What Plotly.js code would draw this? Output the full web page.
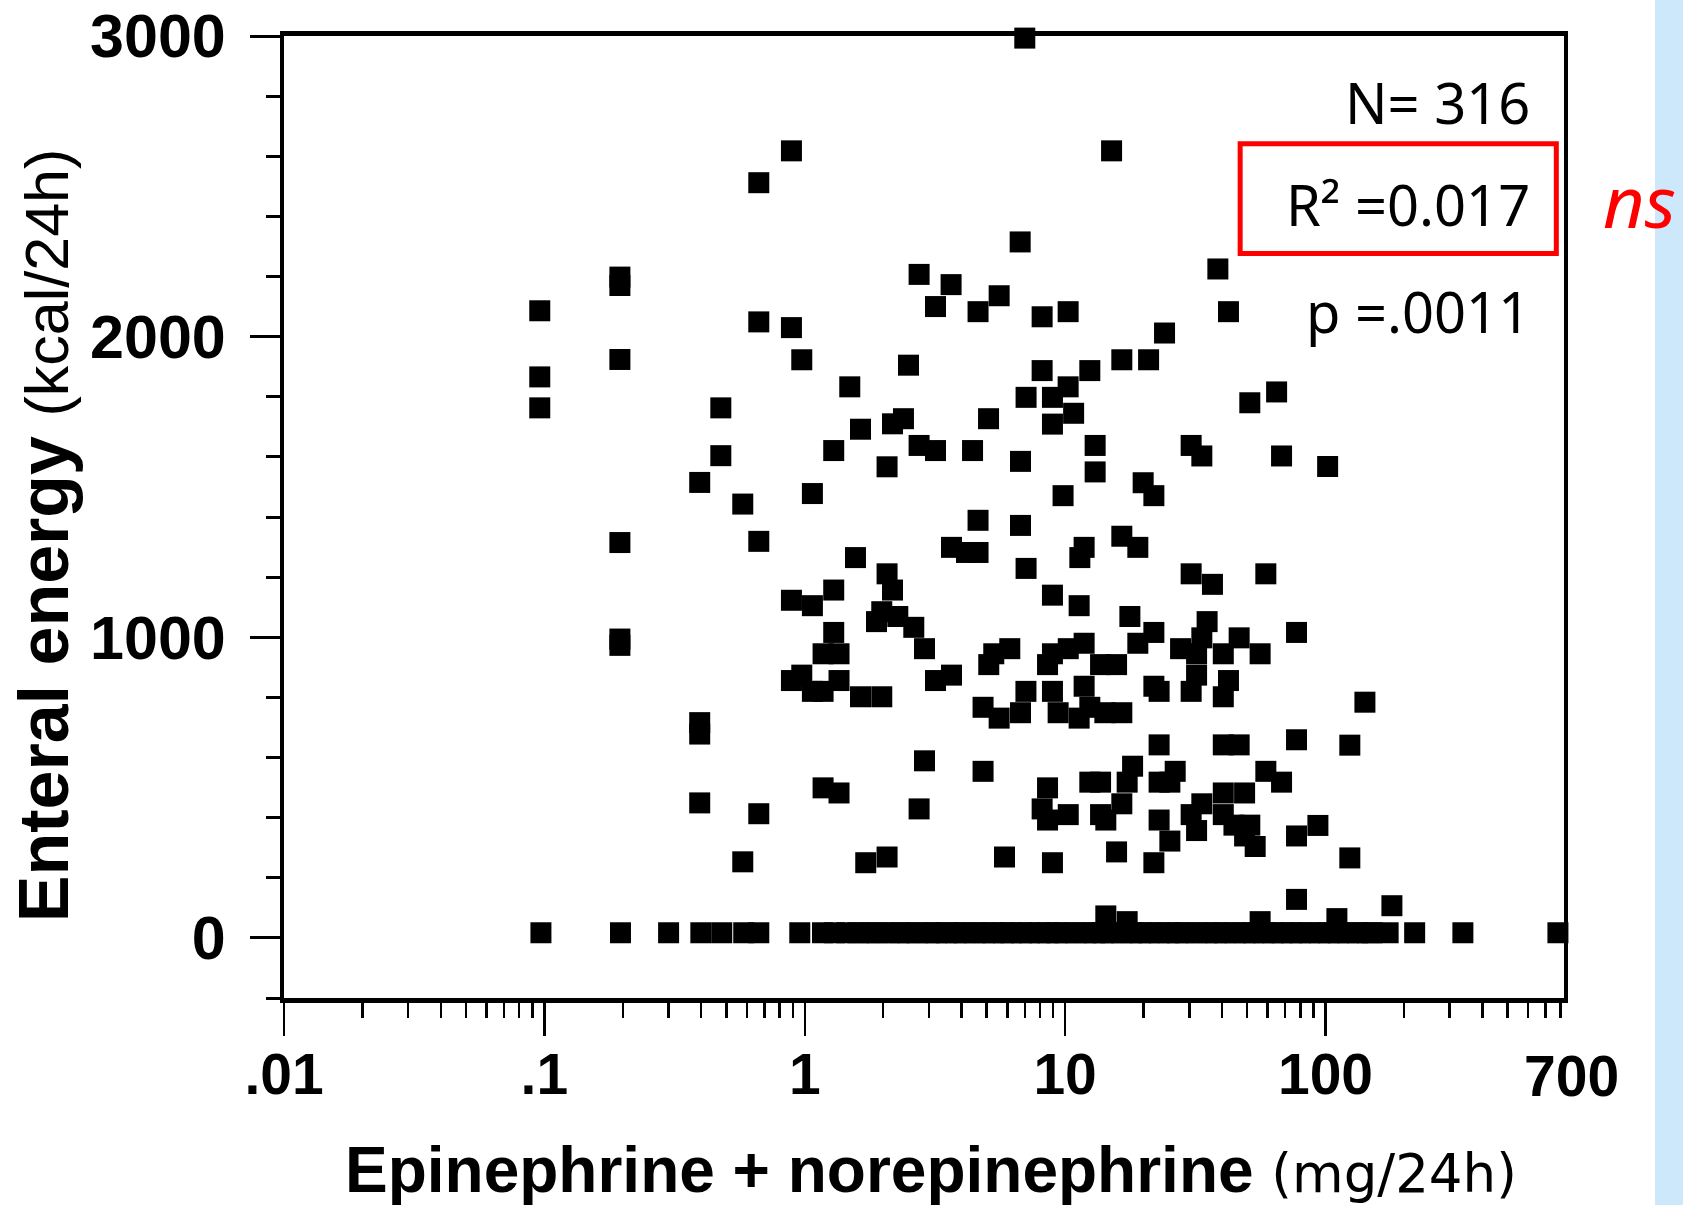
<!DOCTYPE html>
<html><head><meta charset="utf-8">
<script src="https://cdn.plot.ly/plotly-3.0.1.min.js"></script>
<style>html,body{margin:0;padding:0;background:#fff;} #chart{width:1683px;height:1205px;}</style>
</head><body><div id="chart"></div>
<script>
// Epinephrine + norepinephrine (mg/24h) vs enteral energy (kcal/24h), non-zero energy points
const catecholamineDose = [
 0.096,0.096,0.096,
 0.195,0.195,0.195,0.195,0.195,0.195,
 0.395,0.395,0.395,0.395,
 0.476,0.476,
 0.578,0.578,
 0.666,0.666,0.666,0.666,
 0.889,0.889,0.889,0.889,
 0.974,0.974,
 1.07,1.07,1.07,
 1.176,1.176,1.176,
 1.292,1.292,1.292,
 1.354,1.354,1.354,
 1.489,1.566,1.637,1.637,1.715,1.886,1.976,1.976,
 2.071,2.071,2.071,2.173,2.173,2.277,2.394,2.503,2.623,
 2.749,2.749,2.749,2.884,2.884,
 3.178,3.178,3.178,3.648,3.661,3.661,4.18,4.41,
 4.63,4.63,4.63,4.84,4.84,5.08,5.09,5.32,5.58,5.58,5.85,6.13,
 6.72,6.74,6.74,6.74,7.0,7.08,7.08,7.07,
 8.16,8.16,8.16,8.56,8.56,8.56,
 8.94,8.94,8.94,8.94,8.94,8.94,
 9.40,9.82,10.27,10.27,10.28,10.28,10.78,11.32,11.32,11.39,
 11.83,11.83,11.83,12.44,12.44,12.44,13.04,13.04,
 13.68,13.68,13.68,14.21,14.33,14.33,15.08,15.76,15.76,
 16.51,16.51,16.51,16.51,17.31,17.31,17.73,18.16,19.02,19.02,
 19.94,20.92,21.92,21.92,21.92,21.92,22.96,22.96,22.96,22.96,
 24.09,25.25,25.25,26.47,27.76,30.48,30.48,30.48,30.48,
 31.98,31.98,31.98,33.5,33.5,33.5,35.1,36.8,38.6,
 40.5,40.5,40.5,40.5,40.5,42.4,42.4,44.5,46.6,46.6,
 48.9,48.9,51.2,51.2,53.7,56.1,56.1,59.0,59.0,64.9,67.8,67.8,
 77.4,77.4,77.4,77.4,93.5,101.9,110.6,124,124,141.7,179.9
];
const enteralEnergy = [
 2086,1866,1763,
 2198,2170,1924,1315,994,973,
 1515,716,678,449,
 1763,1604,
 1443,253,
 2512,2049,1319,413,
 2618,2030,1123,856,
 1923,874,
 1478,1105,820,
 945,820,499,
 1621,1157,1016,
 945,856,482,
 1833,1265,1692,802,250,1052,1085,802,
 1211,1567,269,1710,1157,1069,1727,1905,1033,
 2207,1638,429,962,589,
 2100,1621,856,2173,1299,874,1282,1621,
 2083,1389,1282,767,554,1727,909,945,2136,731,269,962,
 2315,1585,1372,749,2993,1229,1798,820,
 2066,1887,429,909,499,392,
 1798,1709,1140,945,820,250,
 749,1471,2083,1833,962,410,1745,1105,731,1265,
 1299,980,837,1887,767,518,1638,1550,
 909,518,410,749,392,73,2618,909,286,
 1923,1336,749,446,518,54,1069,571,1299,980,
 1514,1923,1471,1016,837,250,820,642,518,392,
 2012,518,322,554,962,1638,1211,820,410,
 945,874,357,1603,998,446,1052,1176,2225,
 945,802,642,482,410,2083,856,375,998,642,
 482,339,1780,375,304,945,54,1211,554,1816,1603,518,
 1016,659,339,128,374,1568,64,641,266,784,107
];
// Points lying on the bottom row (enteral energy ~0)
const zeroRowDose = [
 0.097,0.196,0.300,0.399,0.480,0.583,0.666,0.957,
 1.17,1.3,1.45,1.6,1.75,1.9,2.1,2.3,2.5,2.7,3.0,3.2,3.5,3.8,4.1,4.5,4.9,5.3,5.8,6.2,6.8,7.3,
 8.0,8.6,9.3,10,11,12,13,14,15,16.5,18,19.5,21,23,25,27,29,32,35,38,41,45,49,53,58,63,68,74,
 80,87,95,103,112,122,133,145,151,
 174,220,337,781
];
const zeroRowEnergy = [
 17,17,17,17,17,17,17,17,
 17,17,17,17,17,17,17,17,17,17,17,17,17,17,17,17,17,17,17,17,17,17,
 17,17,17,17,17,17,17,17,17,17,17,17,17,17,17,17,17,17,17,17,17,17,17,17,17,17,17,17,
 17,17,17,17,17,17,17,17,17,
 17,17,17,17
];
const xTickVals = [0.01, 0.1, 1, 10, 100];
const xTickText = ['.01', '.1', '1', '10', '100'];
const xEndLabel = '700';
const yTickVals = [0, 1000, 2000, 3000];
const yTickText = ['0', '1000', '2000', '3000'];
const statLabels = ['N= 316', 'R\u00b2 =0.017', 'p =.0011'];
const sigLabel = 'ns';

const markerStyle = {symbol: 'square', size: 21, color: 'black', line: {width: 0}};
const traces = [
  {type: 'scatter', mode: 'markers', x: catecholamineDose, y: enteralEnergy, marker: markerStyle, cliponaxis: false, hoverinfo: 'x+y'},
  {type: 'scatter', mode: 'markers', x: zeroRowDose, y: zeroRowEnergy, marker: markerStyle, cliponaxis: false, hoverinfo: 'x+y'}
];

const bold = 'Liberation Sans, Arial, Helvetica, sans-serif';
const hand = 'Noto Sans, DejaVu Sans, sans-serif';

const layout = {
  width: 1683, height: 1205,
  margin: {l: 284, r: 119, t: 36, b: 207, pad: 0},
  paper_bgcolor: 'white', plot_bgcolor: 'white',
  showlegend: false,
  xaxis: {
    type: 'log', range: [-2, 2.916], tickmode: 'array', tickvals: xTickVals, ticktext: xTickText,
    ticks: 'outside', ticklen: 33, tickwidth: 2.5, tickcolor: 'black',
    showline: true, linecolor: 'black', linewidth: 5, mirror: true,
    showgrid: false, zeroline: false,
    tickfont: {family: bold, size: 57, color: 'black', weight: 'bold'},
    ticklabelstandoff: -10,
    minor: {ticks: 'outside', ticklen: 15, tickwidth: 2.5, tickcolor: 'black', tickmode: 'linear', dtick: 'D1', showgrid: false}
  },
  yaxis: {
    range: [-200, 3000], tickmode: 'array', tickvals: yTickVals, ticktext: yTickText,
    ticks: 'outside', ticklen: 30, tickwidth: 3, tickcolor: 'black',
    showline: true, linecolor: 'black', linewidth: 4, mirror: true,
    showgrid: false, zeroline: false,
    tickfont: {family: bold, size: 61, color: 'black', weight: 'bold'},
    ticklabelstandoff: 12,
    minor: {ticks: 'outside', ticklen: 14, tickwidth: 3, tickcolor: 'black', tickmode: 'linear', tick0: 0, dtick: 200, showgrid: false}
  },
  shapes: [
    {type: 'rect', xref: 'paper', yref: 'paper', x0: 1.0711, x1: 1.1, y0: -0.3, y1: 1.1,
     fillcolor: 'rgb(205,232,251)', line: {width: 0}, layer: 'above'},
    {type: 'rect', xref: 'paper', yref: 'paper', x0: 0.747, x1: 0.994, y0: 0.774, y1: 0.888,
     fillcolor: 'rgba(0,0,0,0)', line: {color: 'rgb(255,0,0)', width: 5}, layer: 'above'}
  ],
  annotations: [
    {xref: 'paper', yref: 'paper', x: 1.006, y: -0.0816, xanchor: 'center', yanchor: 'middle', showarrow: false,
     text: xEndLabel, font: {family: bold, size: 57, color: 'black', weight: 'bold'}},
    {xref: 'paper', yref: 'paper', x: 0.5055, y: -0.1788, xanchor: 'center', yanchor: 'middle', showarrow: false,
     text: '<b>Epinephrine + norepinephrine</b> <span style="font-family:DejaVu Sans;font-size:53px">(mg/24h)</span>',
     font: {family: bold, size: 64, color: 'black'}},
    {xref: 'paper', yref: 'paper', x: -0.1875, y: 0.481, xanchor: 'center', yanchor: 'middle', showarrow: false, textangle: -90,
     text: '<b>Enteral energy</b> <span style="font-size:61px">(kcal/24h)</span>',
     font: {family: bold, size: 70, color: 'black'}},
    {xref: 'paper', yref: 'paper', x: 0.975, y: 0.931, xanchor: 'right', yanchor: 'middle', showarrow: false,
     text: statLabels[0], font: {family: hand, size: 56, color: 'black'}},
    {xref: 'paper', yref: 'paper', x: 0.975, y: 0.825, xanchor: 'right', yanchor: 'middle', showarrow: false,
     text: statLabels[1], font: {family: hand, size: 56, color: 'black'}},
    {xref: 'paper', yref: 'paper', x: 0.975, y: 0.714, xanchor: 'right', yanchor: 'middle', showarrow: false,
     text: statLabels[2], font: {family: hand, size: 56, color: 'black'}},
    {xref: 'paper', yref: 'paper', x: 1.059, y: 0.83, xanchor: 'center', yanchor: 'middle', showarrow: false,
     text: sigLabel, font: {family: hand, size: 72, color: 'rgb(255,0,0)', style: 'italic'}}
  ]
};

Plotly.newPlot('chart', traces, layout, {displayModeBar: false, staticPlot: true});
</script>
</body></html>
